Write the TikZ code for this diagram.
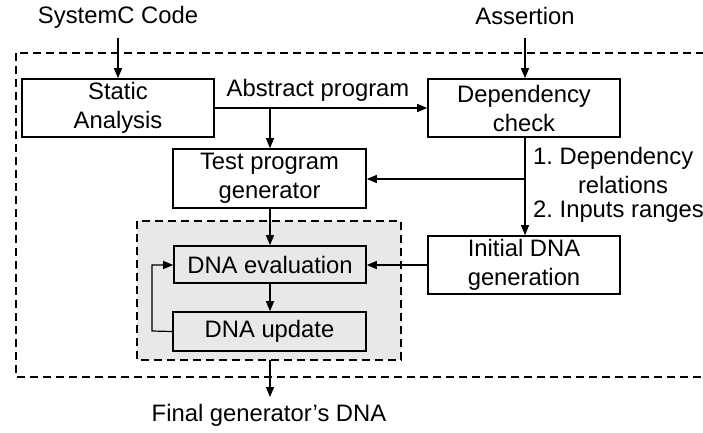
\documentclass[tikz,border=0pt]{standalone}
\usepackage{fontspec}
\setmainfont{Liberation Sans}
\frenchspacing
\usetikzlibrary{arrows.meta}
\begin{document}
\begin{tikzpicture}[x=1pt,y=-1pt,
  every node/.style={font=\fontsize{23.8}{29}\selectfont, inner sep=0pt},
  block/.style={draw, line width=1.6pt, rectangle, align=center},
  wire/.style={line width=1.2pt},
  arr/.style={wire, -{Triangle[length=10pt,width=8pt]}},
  frame/.style={line width=1.5pt, dash pattern=on 8pt off 5pt}]
\useasboundingbox (0,0) rectangle (703,432);

% enclosing frames
\draw[frame] (16,53) rectangle (712,377);
\draw[frame, fill=black!9] (137,221) rectangle (401,360);

% blocks
\node[block, minimum width=192pt, minimum height=58pt] (sa) at (118,108) {Static\\Analysis};
\node[block, minimum width=192pt, minimum height=58pt] (dep) at (524,108) {Dependency\\check};
\node[block, minimum width=193pt, minimum height=59pt] (tpg) at (269.5,178.5) {Test program\\generator};
\node[block, minimum width=192pt, minimum height=58pt] (init) at (524,265) {Initial DNA\\generation};
\node[block, minimum width=192pt, minimum height=37pt, fill=black!9] (eval) at (270,264.5) {DNA evaluation};
\node[block, minimum width=193pt, minimum height=39pt, fill=black!9] (upd) at (269.5,331.5) {DNA update};

% inputs and output labels
\node (sc) at (118,17) {SystemC Code};
\node (as) at (525,16) {Assertion};
\node (fin) at (269,415) {Final generator’s DNA};
\node (ap) at (318,90) {Abstract program};
\node[anchor=west] (l1) at (533,158) {1. Dependency};
\node (l2) at (623,185) {relations};
\node[anchor=west] (l3) at (533,212) {2. Inputs ranges};

\coordinate (scEnd) at (118,38);
\coordinate (asEnd) at (525,38);
\coordinate (branch) at (270,108);
\coordinate (split) at (525,179);
\coordinate (loopL) at (152,331);
\coordinate (loopT) at (152,265);
\coordinate (grayB) at (270,360);
\coordinate (outEnd) at (270,397);

% connectors
\draw[arr] (scEnd) -- (sa.north);
\draw[arr] (asEnd) -- (dep.north -| asEnd);
\draw[arr] (sa.east) -- (dep.west);
\draw[arr] (branch) -- (tpg.north -| branch);
\draw[wire] (dep.south -| split) -- (split);
\draw[arr] (split) -- (init.north -| split);
\draw[arr] (split) -- (tpg.east |- split);
\draw[arr] (tpg.south -| branch) -- (eval.north -| branch);
\draw[arr] (init.west) -- (eval.east |- init.west);
\draw[arr] (eval.south -| branch) -- (upd.north -| branch);
\draw[arr] (upd.west) -- (loopL) -- (loopT) -- (eval.west |- loopT);
\draw[arr] (grayB) -- (outEnd);
\end{tikzpicture}
\end{document}
